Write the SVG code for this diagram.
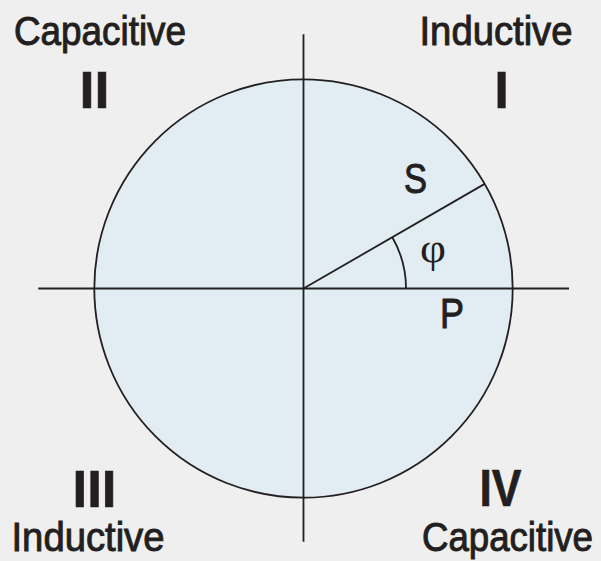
<svg xmlns="http://www.w3.org/2000/svg" width="601" height="561" viewBox="0 0 601 561">
<style>
.ln{stroke:#231f20;stroke-width:1.8;fill:none}
.lbl{font-family:"Liberation Sans",Arial,sans-serif;font-size:41px;fill:#231f20;stroke:#231f20;stroke-width:1}
.big{font-size:42px}
.num{font-family:"Liberation Sans",Arial,sans-serif;font-size:51px;font-weight:bold;fill:#231f20;stroke:#231f20;stroke-width:0.6}
.phi{font-family:"Liberation Serif","Times New Roman",serif;font-size:42px;fill:#231f20}
</style>
<rect width="601" height="561" fill="#efefef"/>
<g id="circle">
<circle cx="303.5" cy="288.5" r="209.2" fill="#e2ecf3" stroke="#231f20" stroke-width="1.8"/>
</g>
<g id="connectors">
<line class="ln" x1="38.3" y1="288.5" x2="569" y2="288.5"/>
<line class="ln" x1="303.5" y1="34.3" x2="303.5" y2="541.7"/>
<line class="ln" x1="303.5" y1="288.5" x2="484.7" y2="183.9"/>
<path class="ln" d="M406,288.5 A102.5,102.5 0 0 0 392.3,237.25"/>
</g>
<g id="quadrant-II">
<text class="lbl" x="14" y="45" textLength="172" lengthAdjust="spacingAndGlyphs">Capacitive</text>
<text class="num" x="79.5" y="108" textLength="30" lengthAdjust="spacingAndGlyphs">II</text>
</g>
<g id="quadrant-I">
<text class="lbl" x="419.5" y="45" textLength="153" lengthAdjust="spacingAndGlyphs">Inductive</text>
<text class="num" x="501.5" y="108" text-anchor="middle">I</text>
</g>
<g id="quadrant-III">
<text class="num" x="72.5" y="507" textLength="44" lengthAdjust="spacingAndGlyphs">III</text>
<text class="lbl" x="11.5" y="551" textLength="153" lengthAdjust="spacingAndGlyphs">Inductive</text>
</g>
<g id="quadrant-IV">
<text class="num" x="479.5" y="506" textLength="42" lengthAdjust="spacingAndGlyphs">IV</text>
<text class="lbl" x="422" y="551" textLength="171" lengthAdjust="spacingAndGlyphs">Capacitive</text>
</g>
<g id="label-S">
<text class="lbl big" x="404" y="193" textLength="23" lengthAdjust="spacingAndGlyphs">S</text>
</g>
<g id="label-phi">
<text class="phi" x="420" y="262" textLength="26" lengthAdjust="spacingAndGlyphs">φ</text>
</g>
<g id="label-P">
<text class="lbl big" x="440" y="328" textLength="24" lengthAdjust="spacingAndGlyphs">P</text>
</g>
</svg>
